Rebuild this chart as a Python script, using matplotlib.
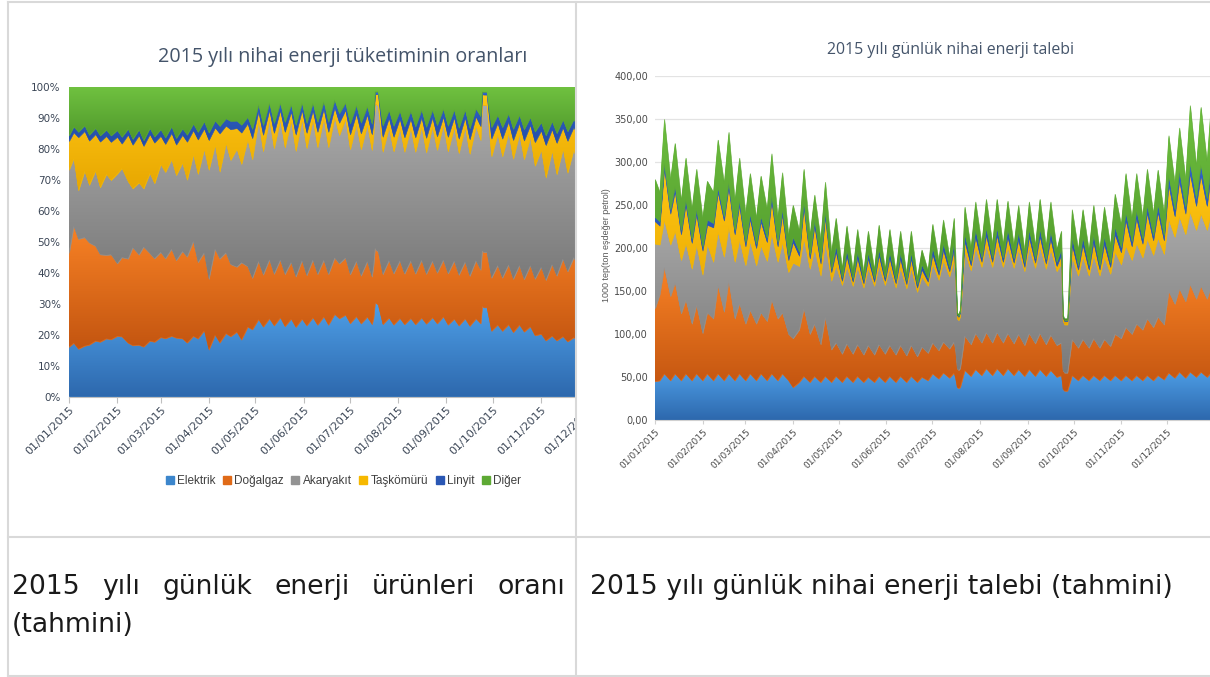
import numpy as np
import pandas as pd
import matplotlib as mpl
mpl.use('Agg')
from matplotlib import pyplot as plt, dates as mdates, ticker as tkr
from matplotlib.patches import PathPatch, Rectangle
from matplotlib.colors import LinearSegmentedColormap
from matplotlib.lines import Line2D

# sample days: 1 Jan, every Sunday (weekly low) and Wednesday (weekly high),
# the two bayram holidays day by day, 31 Dec
sundays = pd.date_range('2015-01-04', '2015-12-27', freq='W-SUN')
wednesdays = pd.date_range('2015-01-07', '2015-12-30', freq='W-WED')
extra_days = pd.DatetimeIndex(['2015-01-01', '2015-07-16', '2015-07-17', '2015-07-18',
                               '2015-09-24', '2015-09-25', '2015-09-26', '2015-12-31'])
dates = extra_days.append(sundays).append(wednesdays).sort_values()

# daily final energy demand, 1000 tep
# (lines: Jan-Feb | Mar-Apr | May-Jun | early Jul | Ramazan bayrami | Jul-Sep |
#  Kurban bayrami | Oct-Dec)
elektrik = [45, 46, 54, 46, 54, 46, 54, 46, 54, 46, 54, 46, 54, 46, 54, 46, 54, 46, 54,
            46, 54, 46, 54, 46, 54, 46, 38, 44, 51, 44, 51, 44, 51, 44, 51,
            44, 51, 44, 51, 44, 50, 44, 51, 44, 51, 44, 51, 44, 51, 44, 50, 46, 54,
            48, 55, 49, 55,
            48, 38, 37, 38,
            58, 51, 59, 52, 60, 52, 60, 52, 60, 52, 59, 51, 59, 51, 59, 51, 58, 50, 52,
            36, 34, 34, 34,
            52, 46, 52, 46, 52, 46, 52, 46, 52, 46, 52, 46, 52, 46, 52, 46, 52, 47, 55,
            49, 56, 49, 56, 50, 56, 50, 56, 54]
dogalgaz = [85, 100, 124, 98, 106, 78, 86, 66, 80, 55, 71, 72, 103, 80, 108, 72, 82, 66, 74,
            66, 71, 69, 86, 72, 71, 54, 57, 61, 79, 56, 61, 44, 69, 38, 39,
            33, 38, 33, 37, 32, 37, 32, 37, 33, 36, 32, 36, 31, 36, 30, 35, 32, 36,
            33, 36, 34, 36,
            32, 22, 21, 22,
            40, 37, 42, 38, 42, 38, 42, 38, 41, 37, 41, 36, 42, 38, 42, 37, 41, 37, 38,
            22, 21, 21, 21,
            42, 38, 42, 38, 43, 38, 42, 40, 48, 49, 56, 54, 60, 59, 66, 62, 68, 64, 95,
            86, 97, 89, 102, 91, 100, 91, 102, 98]
akaryakit = [75, 58, 55, 60, 60, 62, 66, 64, 70, 68, 80, 66, 62, 64, 63, 66, 74, 68, 80,
             68, 78, 70, 77, 66, 82, 72, 88, 74, 82, 76, 88, 80, 88, 80, 90,
             80, 90, 79, 90, 78, 90, 80, 92, 80, 91, 78, 90, 78, 90, 75, 82, 78, 92,
             82, 95, 84, 96,
             80, 58, 58, 60,
             98, 86, 100, 88, 101, 88, 101, 88, 100, 88, 99, 86, 100, 88, 101, 88, 100, 86, 92,
             58, 56, 56, 56,
             96, 84, 96, 84, 97, 84, 96, 84, 96, 86, 95, 86, 94, 84, 93, 84, 92, 82, 84,
             78, 84, 78, 84, 80, 84, 80, 86, 84]
taskomuru = [26, 22, 60, 36, 46, 30, 45, 30, 36, 28, 22, 40, 46, 42, 46, 32, 40, 22, 26,
             20, 28, 22, 38, 18, 32, 14, 24, 12, 36, 12, 26, 14, 28, 10, 16,
             5, 12, 5, 11, 5, 11, 5, 12, 5, 11, 5, 11, 5, 11, 5, 8, 5, 11,
             6, 12, 6, 12,
             8, 4, 4, 5,
             12, 6, 12, 6, 12, 6, 12, 6, 12, 6, 11, 5, 12, 6, 12, 6, 12, 6, 10,
             4, 4, 4, 4,
             14, 7, 14, 7, 15, 7, 15, 8, 20, 14, 30, 16, 29, 16, 30, 17, 30, 16, 40,
             24, 42, 24, 45, 28, 45, 28, 46, 44]
linyit = [5, 5, 6, 5, 6, 5, 6, 5, 6, 5, 6, 5, 6, 5, 6, 5, 6, 5, 6,
          5, 6, 5, 7, 5, 7, 5, 6, 5, 7, 5, 7, 5, 7, 4, 7,
          4, 7, 4, 7, 4, 7, 4, 7, 4, 7, 4, 7, 4, 7, 4, 6, 4, 8,
          5, 8, 5, 8,
          5, 1, 1, 1,
          9, 5, 9, 5, 9, 5, 9, 5, 9, 5, 9, 5, 9, 5, 9, 5, 9, 5, 7,
          1, 1, 1, 1,
          9, 5, 9, 5, 9, 5, 9, 5, 9, 6, 9, 6, 9, 6, 9, 6, 9, 6, 11,
          8, 11, 8, 12, 9, 12, 9, 12, 11]
diger = [44, 34, 51, 35, 50, 34, 48, 34, 46, 33, 45, 36, 55, 38, 58, 34, 49, 33, 47,
         30, 47, 33, 48, 28, 42, 24, 37, 24, 37, 22, 29, 23, 34, 19, 32,
         10, 28, 9, 26, 9, 25, 10, 28, 9, 26, 9, 25, 8, 25, 7, 17, 9, 27,
         11, 27, 12, 28,
         17, 2, 2, 2,
         31, 15, 32, 16, 33, 16, 33, 15, 33, 15, 31, 14, 32, 15, 34, 15, 34, 14, 21,
         2, 2, 2, 2,
         32, 18, 32, 17, 34, 18, 34, 20, 38, 26, 45, 26, 43, 25, 42, 25, 40, 25, 46,
         30, 50, 32, 67, 37, 67, 42, 74, 60]

names = ['Elektrik', 'Doğalgaz', 'Akaryakıt', 'Taşkömürü', 'Linyit', 'Diğer']
top_colors = ['#4fa0e8', '#f88225', '#ababab', '#ffc613', '#3064cc', '#70c240']
bot_colors = ['#2d68ad', '#c25410', '#7a7a7a', '#e6a500', '#22489b', '#4a9128']
mid_colors = ['#3c86cc', '#e06a18', '#939393', '#f6b800', '#2a57b4', '#5da934']

W, H = 1210, 677
fig = plt.figure(figsize=(W / 100, H / 100), dpi=100)


def px_axes(left, top, right, bottom, z):
    return fig.add_axes([left / W, 1 - bottom / H, (right - left) / W, (bottom - top) / H],
                        zorder=z)


def gradient_layer(ax, x, lower, upper, c_top, c_bot, c_mid, z):
    poly = ax.fill_between(x, lower, upper, facecolor=c_mid, edgecolor=c_mid,
                           lw=0.4, zorder=z)
    clip = PathPatch(poly.get_paths()[0], transform=ax.transData,
                     facecolor='none', edgecolor='none')
    ax.add_patch(clip)
    cmap = LinearSegmentedColormap.from_list('grad', [c_bot, c_top])
    xn = mdates.date2num(x)
    im = ax.imshow(np.linspace(0, 1, 256).reshape(-1, 1), cmap=cmap, aspect='auto',
                   origin='lower', interpolation='bilinear', zorder=z + 0.1,
                   extent=[xn[0], xn[-1], lower.min(), upper.max()])
    im.set_clip_path(clip)


stack = np.cumsum(np.vstack([elektrik, dogalgaz, akaryakit, taskomuru, linyit, diger]), axis=0)
shares = stack / stack[-1] * 100
xlo, xhi = mdates.date2num(pd.Timestamp('2015-01-01')), mdates.date2num(pd.Timestamp('2015-12-31'))

# ---- left: shares ----
axl = px_axes(69, 86.7, 69 + 364 * 1.553, 396.7, 1)
for i in range(6):
    low = shares[i - 1] if i else np.zeros(len(dates))
    gradient_layer(axl, dates, low, shares[i], top_colors[i], bot_colors[i], mid_colors[i], 2 + i)
axl.set_xlim(xlo, xhi)
axl.set_ylim(0, 100)
axl.yaxis.set_major_locator(tkr.MultipleLocator(10))
axl.yaxis.set_major_formatter(tkr.PercentFormatter(decimals=0))
axl.xaxis.set_major_locator(mdates.MonthLocator())
axl.xaxis.set_major_formatter(mdates.DateFormatter('%d/%m/%Y'))
for s in ['top', 'right', 'left']:
    axl.spines[s].set_visible(False)
axl.spines['bottom'].set_color('#bfbfbf')
axl.tick_params(axis='y', length=0, pad=6, labelsize=7.5, labelcolor='#3b4656')
axl.tick_params(axis='x', length=4, color='#bfbfbf', pad=2, labelsize=8, labelcolor='#3b4656')
for lab in axl.get_xticklabels():
    lab.set_rotation(45)
    lab.set_ha('right')
    lab.set_rotation_mode('anchor')

handles = [Line2D([], [], ls='none', marker='s', ms=5.5, mfc=mid_colors[i], mec=mid_colors[i])
           for i in range(6)]
axl.legend(handles, names, loc='center', bbox_to_anchor=(343 / W, 1 - 481 / H),
           bbox_transform=fig.transFigure, ncol=6, frameon=False,
           handlelength=0.8, handletextpad=0.2, columnspacing=0.6,
           labelcolor='#404040', prop={'family': 'Liberation Sans', 'size': 8.5})
fig.text(343 / W, 1 - 57 / H, '2015 yılı nihai enerji tüketiminin oranları', ha='center',
         va='center', fontsize=14.2, color='#44546a', family='Open Sans')

# hide the part of the left chart that the table cell cuts off
fig.add_artist(Rectangle((577 / W, 1 - 536 / H), 80 / W, 533 / H, transform=fig.transFigure,
                         facecolor='white', edgecolor='none', zorder=3))

# ---- right: demand ----
axr = px_axes(655, 76, 655 + 364 * 1.533, 420, 5)
for i in range(6):
    low = stack[i - 1] if i else np.zeros(len(dates))
    gradient_layer(axr, dates, low, stack[i], top_colors[i], bot_colors[i], mid_colors[i], 2 + i)
axr.set_xlim(xlo, xhi)
axr.set_ylim(0, 400)
axr.yaxis.set_major_locator(tkr.MultipleLocator(50))
axr.yaxis.set_major_formatter(tkr.FuncFormatter(lambda v, _: f'{v:.2f}'.replace('.', ',')))
axr.xaxis.set_major_locator(mdates.MonthLocator())
axr.xaxis.set_major_formatter(mdates.DateFormatter('%d/%m/%Y'))
axr.set_axisbelow(True)
axr.yaxis.grid(True, color='#e3e3e3', lw=0.9)
for s in ['top', 'right', 'left']:
    axr.spines[s].set_visible(False)
axr.spines['bottom'].set_color('#d0d0d0')
axr.tick_params(axis='y', length=0, pad=5, labelsize=7, labelcolor='#4a4a4a')
axr.tick_params(axis='x', length=3, color='#d0d0d0', pad=2, labelsize=6.5, labelcolor='#4a4a4a')
for lab in axr.get_xticklabels():
    lab.set_rotation(45)
    lab.set_ha('right')
    lab.set_rotation_mode('anchor')
fig.text(950 / W, 1 - 50 / H, '2015 yılı günlük nihai enerji talebi', ha='center',
         va='center', fontsize=11.4, color='#44546a', family='Open Sans')
fig.text(607 / W, 1 - 245 / H, '1000 tep(ton eşdeğer petrol)', ha='center', va='center',
         rotation=90, fontsize=6.5, color='#595959', family='Liberation Sans')

# ---- table captions ----
cap = dict(fontsize=19.2, color='#1a1a1a', family='DejaVu Sans', va='center', ha='left')
renderer = fig.canvas.get_renderer()
words = '2015 yılı günlük enerji ürünleri oranı'.split()
texts = [fig.text(0, 1 - 587 / H, w, **cap) for w in words]
widths = [t.get_window_extent(renderer).width for t in texts]
gap = ((565 - 12) - sum(widths)) / (len(words) - 1)
xpos = 12
for t, w in zip(texts, widths):
    t.set_x(xpos / W)
    xpos += w + gap
fig.text(12 / W, 1 - 625 / H, '(tahmini)', **cap)
fig.text(590 / W, 1 - 587 / H, '2015 yılı günlük nihai enerji talebi (tahmini)', **cap)

# ---- table borders ----
grid = '#d9d9d9'
for x in [7.5, 576]:
    fig.add_artist(Line2D([x / W, x / W], [0, 1 - 1.5 / H], color=grid, lw=1.5, zorder=10))
for y in [1.8, 537, 676]:
    fig.add_artist(Line2D([7.5 / W, 1], [1 - y / H, 1 - y / H], color=grid, lw=1.5, zorder=10))

fig.savefig('out.png', dpi=100)
